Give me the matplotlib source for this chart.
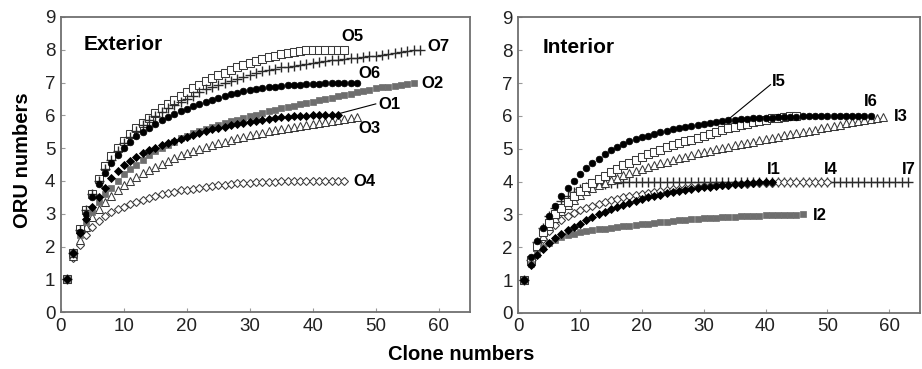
import numpy as np
import matplotlib
matplotlib.use("Agg")
import matplotlib.pyplot as plt

plt.rcParams['font.family'] = ['Liberation Sans', 'DejaVu Sans']

# Exterior panel (ORU numbers at clone numbers 1..N)
o1 = [1.0, 1.8, 2.4, 2.85, 3.2, 3.5, 3.78, 4.1, 4.3, 4.48, 4.62, 4.74, 4.85, 4.94, 5.02,
      5.09, 5.16, 5.23, 5.29, 5.35, 5.41, 5.47, 5.52, 5.57, 5.62, 5.66, 5.7, 5.74, 5.78,
      5.81, 5.84, 5.87, 5.9, 5.92, 5.94, 5.96, 5.97, 5.98, 5.99, 6.0, 6.0, 6.0, 6.0, 6.0]
o2 = [1.0, 1.8, 2.35, 2.75, 3.05, 3.35, 3.6, 3.8, 4.0, 4.2, 4.35, 4.5, 4.65, 4.78, 4.9,
      5.0, 5.1, 5.2, 5.3, 5.38, 5.45, 5.52, 5.58, 5.65, 5.7, 5.76, 5.82, 5.87, 5.92, 5.97,
      6.02, 6.07, 6.12, 6.17, 6.21, 6.25, 6.3, 6.34, 6.38, 6.42, 6.46, 6.5, 6.54, 6.58,
      6.62, 6.66, 6.7, 6.74, 6.78, 6.82, 6.85, 6.88, 6.91, 6.94, 6.97, 7.0]
o3 = [1.0, 1.7, 2.2, 2.6, 2.9, 3.15, 3.35, 3.55, 3.72, 3.87, 4.0, 4.12, 4.23, 4.34, 4.44,
      4.53, 4.62, 4.7, 4.78, 4.85, 4.92, 4.98, 5.04, 5.1, 5.15, 5.2, 5.25, 5.3, 5.35, 5.39,
      5.43, 5.47, 5.51, 5.55, 5.58, 5.62, 5.65, 5.68, 5.71, 5.74, 5.77, 5.8, 5.83, 5.86,
      5.89, 5.92, 5.95]
o4 = [1.0, 1.65, 2.05, 2.35, 2.6, 2.78, 2.93, 3.05, 3.15, 3.22, 3.3, 3.37, 3.43, 3.49,
      3.54, 3.59, 3.63, 3.67, 3.71, 3.74, 3.77, 3.8, 3.83, 3.85, 3.87, 3.89, 3.91, 3.93,
      3.94, 3.95, 3.96, 3.97, 3.98, 3.98, 3.99, 4.0, 4.0, 4.0, 4.0, 4.0, 4.0, 4.0, 4.0,
      4.0, 4.0]
o5 = [1.0, 1.8, 2.55, 3.1, 3.6, 4.05, 4.45, 4.75, 5.0, 5.22, 5.42, 5.6, 5.77, 5.93, 6.08,
      6.22, 6.35, 6.48, 6.6, 6.72, 6.83, 6.94, 7.04, 7.13, 7.22, 7.3, 7.38, 7.46, 7.53,
      7.6, 7.66, 7.72, 7.77, 7.82, 7.86, 7.9, 7.93, 7.96, 7.98, 7.99, 8.0, 8.0, 8.0, 8.0,
      8.0]
o6 = [1.0, 1.8, 2.45, 3.0, 3.5, 3.9, 4.25, 4.55, 4.8, 5.02, 5.2, 5.36, 5.5, 5.63, 5.75,
      5.85, 5.95, 6.04, 6.12, 6.2, 6.28, 6.35, 6.42, 6.48, 6.54, 6.59, 6.64, 6.69, 6.73,
      6.77, 6.8, 6.83, 6.86, 6.88, 6.9, 6.92, 6.93, 6.94, 6.95, 6.96, 6.97, 6.98, 6.99,
      7.0, 7.0, 7.0, 7.0]
o7 = [1.0, 1.8, 2.5, 3.1, 3.6, 4.0, 4.35, 4.65, 4.9, 5.15, 5.35, 5.53, 5.7, 5.85, 5.98,
      6.1, 6.21, 6.31, 6.41, 6.5, 6.6, 6.7, 6.8, 6.87, 6.94, 7.0, 7.06, 7.12, 7.18, 7.24,
      7.29, 7.34, 7.38, 7.42, 7.46, 7.49, 7.52, 7.55, 7.58, 7.61, 7.64, 7.66, 7.68, 7.7,
      7.72, 7.74, 7.76, 7.78, 7.8, 7.82, 7.84, 7.87, 7.9, 7.93, 7.95, 7.98, 8.0]

# Interior panel
i1 = [1.0, 1.45, 1.75, 1.95, 2.12, 2.27, 2.4, 2.52, 2.62, 2.72, 2.82, 2.91, 3.0, 3.08,
      3.16, 3.23, 3.3, 3.36, 3.42, 3.47, 3.52, 3.56, 3.6, 3.64, 3.68, 3.71, 3.74, 3.77,
      3.8, 3.82, 3.84, 3.86, 3.88, 3.9, 3.92, 3.94, 3.95, 3.97, 3.98, 3.99, 4.0]
i2 = [1.0, 1.5, 1.8, 2.0, 2.12, 2.22, 2.3, 2.36, 2.41, 2.45, 2.48, 2.51, 2.54, 2.57, 2.6,
      2.62, 2.64, 2.66, 2.68, 2.7, 2.72, 2.74, 2.76, 2.78, 2.8, 2.82, 2.84, 2.86, 2.87,
      2.88, 2.89, 2.9, 2.91, 2.92, 2.93, 2.94, 2.95, 2.96, 2.96, 2.97, 2.97, 2.98, 2.98,
      2.99, 2.99, 3.0]
i3 = [1.0, 1.6, 2.0, 2.35, 2.65, 2.9, 3.1, 3.28, 3.44, 3.58, 3.7, 3.8, 3.89, 3.97, 4.05,
      4.12, 4.19, 4.26, 4.32, 4.38, 4.44, 4.5, 4.55, 4.61, 4.66, 4.71, 4.76, 4.81, 4.86,
      4.9, 4.94, 4.98, 5.02, 5.06, 5.1, 5.14, 5.17, 5.21, 5.25, 5.3, 5.34, 5.37, 5.41,
      5.44, 5.48, 5.51, 5.55, 5.58, 5.62, 5.65, 5.69, 5.73, 5.77, 5.8, 5.84, 5.87, 5.9,
      5.93, 5.96]
i4 = [1.0, 1.55, 1.95, 2.25, 2.5, 2.68, 2.83, 2.95, 3.05, 3.13, 3.2, 3.26, 3.32, 3.38,
      3.43, 3.48, 3.52, 3.56, 3.6, 3.63, 3.66, 3.69, 3.72, 3.74, 3.76, 3.78, 3.8, 3.82,
      3.84, 3.86, 3.87, 3.88, 3.9, 3.91, 3.92, 3.93, 3.94, 3.95, 3.96, 3.97, 3.97, 3.98,
      3.98, 3.99, 3.99, 4.0, 4.0, 4.0, 4.0, 4.0]
i5 = [1.0, 1.6, 2.05, 2.45, 2.75, 3.0, 3.2, 3.38, 3.55, 3.7, 3.83, 3.95, 4.07, 4.18, 4.29,
      4.39, 4.49, 4.58, 4.67, 4.75, 4.83, 4.9, 4.97, 5.04, 5.1, 5.16, 5.22, 5.28, 5.34,
      5.4, 5.46, 5.52, 5.57, 5.62, 5.67, 5.72, 5.76, 5.8, 5.84, 5.88, 5.92, 5.95, 5.98,
      6.0, 6.0]
i6 = [1.0, 1.7, 2.2, 2.6, 2.95, 3.25, 3.55, 3.8, 4.02, 4.22, 4.4, 4.56, 4.7, 4.83, 4.95,
      5.05, 5.14, 5.22, 5.29, 5.35, 5.4, 5.45, 5.5, 5.55, 5.59, 5.63, 5.67, 5.7, 5.73,
      5.76, 5.79, 5.82, 5.84, 5.86, 5.88, 5.9, 5.91, 5.92, 5.93, 5.94, 5.95, 5.96, 5.97,
      5.98, 5.98, 5.99, 5.99, 6.0, 6.0, 6.0, 6.0, 6.0, 6.0, 6.0, 6.0, 6.0, 6.0]
i7 = [1.0, 1.6, 2.15, 2.6, 2.95, 3.2, 3.4, 3.55, 3.67, 3.76, 3.83, 3.88, 3.92, 3.94, 3.96,
      3.97, 3.98, 3.99] + [4.0] * 45

ext_labels = ["O1", "O2", "O3", "O4", "O5", "O6", "O7"]
int_labels = ["I1", "I2", "I3", "I4", "I5", "I6", "I7"]

# marker style per index: 1 filled diamond, 2 gray square, 3 open triangle,
# 4 open diamond, 5 open square, 6 filled circle, 7 plus
styles = [
    dict(marker='D', ms=4.0, mfc='black', mec='black', mew=0.6),
    dict(marker='s', ms=4.0, mfc='#6e6e6e', mec='#6e6e6e', mew=0.5),
    dict(marker='^', ms=6.2, mfc='white', mec='#3a3a3a', mew=0.75),
    dict(marker='D', ms=4.4, mfc='white', mec='#3a3a3a', mew=0.75),
    dict(marker='s', ms=5.6, mfc='white', mec='#3a3a3a', mew=0.75),
    dict(marker='o', ms=4.8, mfc='black', mec='black', mew=0.5),
    dict(marker='+', ms=7.5, mfc='none', mec='#2a2a2a', mew=1.0),
]

fig = plt.figure(figsize=(9.22, 3.69), dpi=100)
ax1 = fig.add_axes([0.066, 0.154, 0.444, 0.8])
ax2 = fig.add_axes([0.562, 0.152, 0.436, 0.801])


def draw(ax, series, order):
    for k in order:
        y = series[k]
        x = np.arange(1, len(y) + 1)
        ax.plot(x, y, linestyle='none', **styles[k])
    ax.set_xlim(0, 65)
    ax.set_ylim(0, 9)
    ax.set_xticks(range(0, 61, 10))
    ax.set_yticks(range(0, 10))
    for s in ax.spines.values():
        s.set_color('#707070')
        s.set_linewidth(1.3)
    ax.tick_params(direction='in', length=3, color='#999999', labelsize=13.5,
                   labelcolor='#222222', pad=4)


ext = [o1, o2, o3, o4, o5, o6, o7]
intr = [i1, i2, i3, i4, i5, i6, i7]
draw(ax1, ext, [3, 2, 4, 6, 5, 1, 0])
draw(ax2, intr, [6, 3, 2, 4, 1, 5, 0])

lab = dict(fontsize=12, fontweight='bold', va='center', ha='left')
ax1.text(3.6, 8.16, "Exterior", fontsize=15, fontweight='bold', va='center')
ax1.text(44.5, 8.4, ext_labels[4], **lab)
ax1.text(58.2, 8.1, ext_labels[6], **lab)
ax1.text(47.2, 7.28, ext_labels[5], **lab)
ax1.text(57.2, 6.97, ext_labels[1], **lab)
ax1.text(50.4, 6.33, ext_labels[0], **lab)
ax1.text(47.2, 5.6, ext_labels[2], **lab)
ax1.text(46.4, 3.97, ext_labels[3], **lab)
ax1.plot([44.3, 50.0], [6.06, 6.35], color='black', lw=0.8)

ax2.text(4.0, 8.07, "Interior", fontsize=15, fontweight='bold', va='center')
ax2.text(41.1, 7.05, int_labels[4], **lab)
ax2.text(55.9, 6.45, int_labels[5], **lab)
ax2.text(60.8, 5.98, int_labels[2], **lab)
ax2.text(40.2, 4.38, int_labels[0], **lab)
ax2.text(49.4, 4.38, int_labels[3], **lab)
ax2.text(62.0, 4.38, int_labels[6], **lab)
ax2.text(47.6, 2.97, int_labels[1], **lab)
ax2.plot([33.7, 40.8], [5.85, 6.95], color='black', lw=0.8)

fig.text(0.024, 0.565, "ORU numbers", rotation=90, fontsize=14.5, fontweight='bold',
         ha='center', va='center')
fig.text(0.5, 0.04, "Clone numbers", fontsize=14.5, fontweight='bold',
         ha='center', va='center')

fig.savefig("out.png", dpi=100)
